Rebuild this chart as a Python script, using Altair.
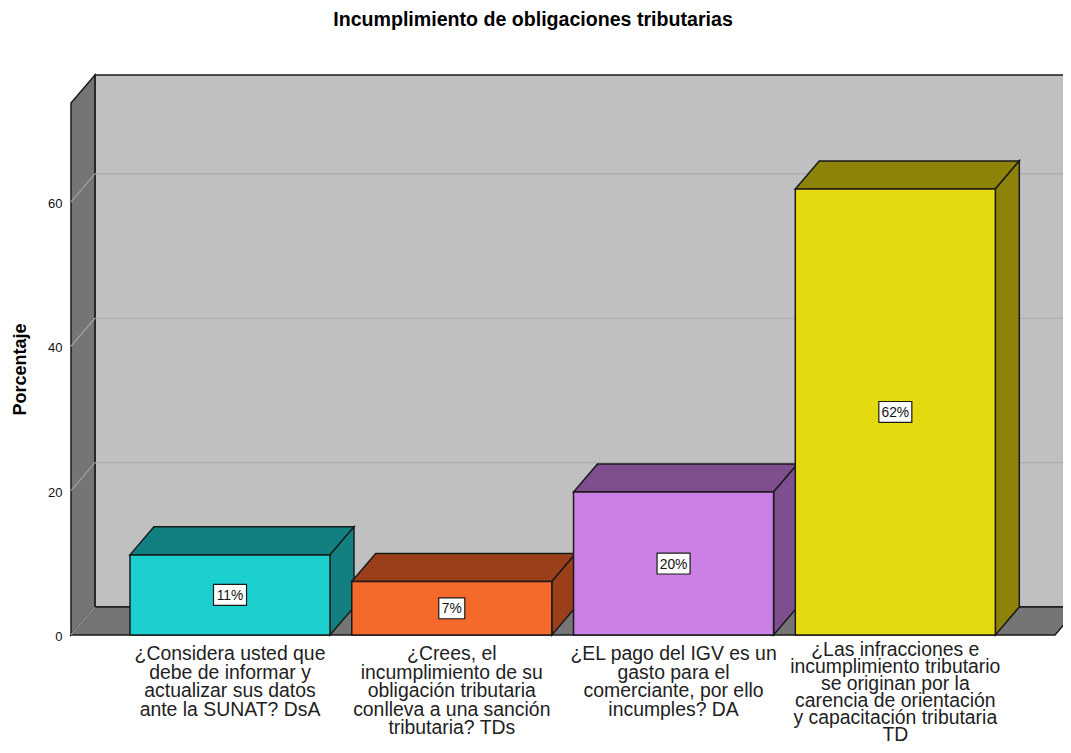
import altair as alt
import pandas as pd

title = "Incumplimiento de obligaciones tributarias"
labels = [
    ["¿Considera usted que", "debe de informar y", "actualizar sus datos", "ante la SUNAT? DsA"],
    ["¿Crees, el", "incumplimiento de su", "obligación tributaria", "conlleva a una sanción", "tributaria? TDs"],
    ["¿EL pago del IGV es un", "gasto para el", "comerciante, por ello", "incumples? DA"],
    ["¿Las infracciones e", "incumplimiento tributario", "se originan por la", "carencia de orientación", "y capacitación tributaria", "TD"],
]
values = [11.1, 7.4, 19.8, 61.8]
pct = ["11%", "7%", "20%", "62%"]
front = ["#1BCFCF", "#F5692B", "#CA80E5", "#E5D90F"]
shade = ["#128080", "#9A3F1A", "#7F4E8F", "#8D8308"]
ticks = [0, 20, 40, 60]

XMIN, XMAX = -0.717, 3.72
YMAX = 73.7
DX, DY = 0.108, 3.88
HALF = 0.451
EDGE = "#1a1a1a"
FONT = "Liberation Sans"

xs = alt.Scale(domain=[XMIN, XMAX], nice=False, zero=False)
ys = alt.Scale(domain=[0, YMAX], nice=False, zero=False)
y_axis = alt.Axis(
    values=ticks, title="Porcentaje", domain=False, ticks=False, grid=False,
    labelFont=FONT, labelFontSize=13, labelColor="#111111", labelPadding=9, labelOffset=1.5,
    titleFont=FONT, titleFontSize=18, titleFontWeight="bold", titleColor="#000000",
    titlePadding=18,
)
X = alt.X("x:Q", scale=xs, axis=None)
Y = alt.Y("y:Q", scale=ys, stack=None, axis=y_axis)
Y2 = alt.Y2("y2:Q")


def face(rows, fill, sw=1.5):
    return alt.Chart(pd.DataFrame(rows, columns=["x", "y", "y2"])).mark_area(
        orient="vertical", fill=fill, stroke=EDGE, strokeWidth=sw, clip=False, opacity=1
    ).encode(x=X, y=Y, y2=Y2)


def grid_line(x0, y0, x1, y1, color):
    return alt.Chart(pd.DataFrame({"x": [x0, x1], "y": [y0, y1]})).mark_line(
        color=color, strokeWidth=1.2, clip=False
    ).encode(x=X, y=Y)


layers = []
# back wall, side wall, floor
layers.append(face([[XMIN + DX, DY, YMAX + DY], [XMAX + DX, DY, YMAX + DY]], "#C0C0C0"))
layers.append(face([[XMIN, 0, YMAX], [XMIN + DX, DY, YMAX + DY]], "#757575"))
layers.append(face([[XMIN, 0, 0], [XMIN + DX, 0, DY], [XMAX, 0, DY], [XMAX + DX, DY, DY]], "#757575"))
# gridlines
for t in ticks[1:]:
    layers.append(grid_line(XMIN + DX, t + DY, XMAX + DX, t + DY, "#ABABAB"))
for t in ticks:
    layers.append(grid_line(XMIN, t, XMIN + DX, t + DY, "#A0A0A0"))

# bars, left to right
for i, v in enumerate(values):
    l, r = i - HALF, i + HALF
    layers.append(face([[l, v, v], [l + DX, v, v + DY], [r, v, v + DY], [r + DX, v + DY, v + DY]], shade[i]))
    layers.append(face([[r, 0, v], [r + DX, DY, v + DY]], shade[i]))
    layers.append(face([[l, 0, v], [r, 0, v]], front[i]))

# value labels
df = pd.DataFrame({
    "x": range(4), "y": [v / 2 for v in values], "t": pct,
    "xa": [i - (3.5 * len(p) + 6) / 221.7 for i, p in enumerate(pct)],
    "xb": [i + (3.5 * len(p) + 6) / 221.7 for i, p in enumerate(pct)],
    "ya": [v / 2 - 1.45 for v in values],
    "yb": [v / 2 + 1.45 for v in values],
})
layers.append(alt.Chart(df).mark_rect(fill="white", stroke=EDGE, strokeWidth=1.2, clip=False).encode(
    x=alt.X("xa:Q", scale=xs, axis=None), x2="xb:Q",
    y=alt.Y("ya:Q", scale=ys, axis=y_axis), y2="yb:Q"))
layers.append(alt.Chart(df).mark_text(font=FONT, fontSize=13.8, color="#111111", clip=False, dy=1).encode(
    x=X, y=Y, text="t:N"))

# category labels (the six-line one is set slightly tighter so it stays on the page)
cat = pd.DataFrame({"x": range(4), "y": [0] * 4, "t": labels})
cat_short = cat[cat["t"].map(len) < 6]
cat_long = cat[cat["t"].map(len) == 6]
layers.append(alt.Chart(cat_short).mark_text(
    font=FONT, fontSize=19.4, color="#222222", baseline="top", align="center",
    lineHeight=18.5, dy=10, clip=False
).encode(x=X, y=Y, text="t"))
layers.append(alt.Chart(cat_long).mark_text(
    font=FONT, fontSize=19.4, color="#222222", baseline="top", align="center",
    lineHeight=17, dy=6, clip=False
).encode(x=X, y=Y, text="t"))

chart = alt.layer(*layers).properties(
    width=984, height=532,
    autosize=alt.AutoSizeParams(type="none"),
    padding={"left": 63, "top": 95, "right": 8, "bottom": 110},
    title=alt.TitleParams(title, font=FONT, fontSize=19.6, fontWeight="bold", color="#000000",
                          anchor="middle", dx=-30, offset=41),
).configure_view(stroke=None)

chart.save("out.html", embed_options={"renderer": "svg", "actions": False})
